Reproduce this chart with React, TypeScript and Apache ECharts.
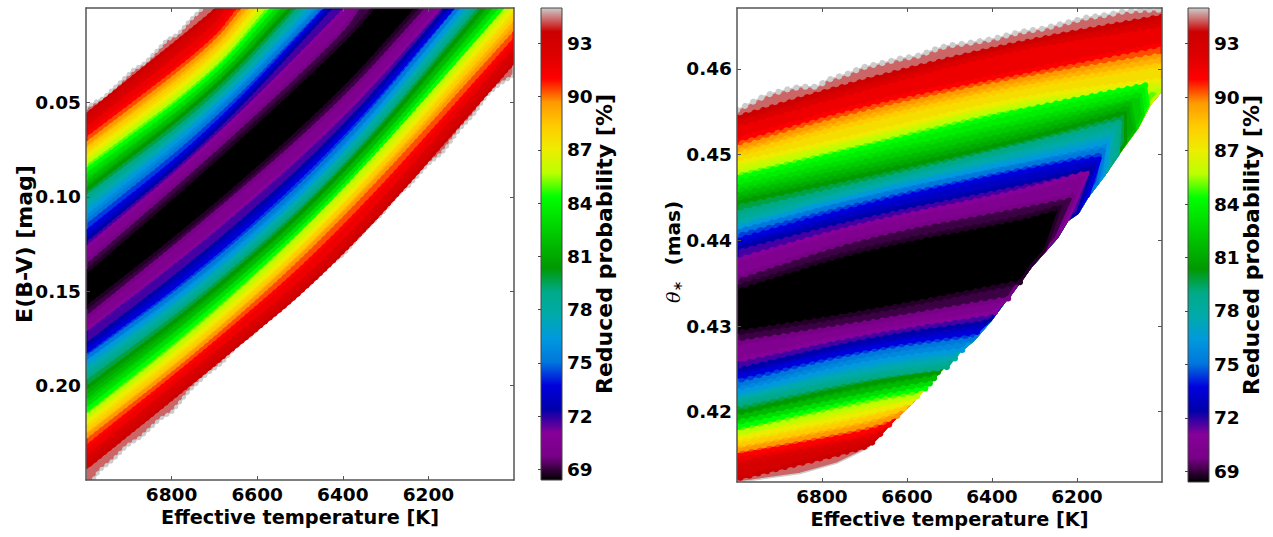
import React, { useEffect, useRef } from "react";
import * as echarts from "echarts";

// Probability levels (fraction of the colour scale), outermost to innermost
const levels = [0.95, 0.9, 0.85, 0.8, 0.75, 0.7, 0.65, 0.6, 0.55, 0.5, 0.45, 0.4, 0.35, 0.3, 0.25, 0.2, 0.15, 0.1, 0.05, 0.015];

// Colour scale stops
const scaleStops = [
  [0, 0, 0], [120, 0, 135], [135, 0, 153], [0, 0, 170], [0, 0, 221], [0, 119, 221], [0, 153, 221],
  [0, 170, 170], [0, 170, 135], [0, 153, 0], [0, 186, 0], [0, 221, 0], [0, 255, 0], [186, 255, 0],
  [237, 237, 0], [255, 204, 0], [255, 153, 0], [255, 0, 0], [221, 0, 0], [204, 0, 0], [204, 204, 204],
];

const tempTicks = [6200, 6400, 6600, 6800];
const ebvTicks = [0.05, 0.1, 0.15, 0.2];
const thetaTicks = [0.42, 0.43, 0.44, 0.45, 0.46];
const probTicks = [69, 72, 75, 78, 81, 84, 87, 90, 93];
const probRange = [68.4, 95];

// Left panel: E(B-V) of each contour at T=7000, 6710, 6407
const leftUpperA = [0.0567, 0.062, 0.0673, 0.072, 0.0752, 0.0789, 0.0821, 0.0858, 0.089, 0.0927, 0.0964, 0.1001, 0.1043, 0.1086, 0.1133, 0.1186, 0.1229, 0.1271, 0.1345, 0.1398];
const leftUpperB = [0.0037, 0.0101, 0.0175, 0.0222, 0.0265, 0.0307, 0.0344, 0.0381, 0.0408, 0.0434, 0.0461, 0.0514, 0.054, 0.0567, 0.0609, 0.0662, 0.0689, 0.0726, 0.0779, 0.0832];
const leftUpperC = [null, null, null, null, null, null, null, null, null, null, null, null, null, null, null, null, null, 0.0037, 0.0143, 0.0201];
const leftUpperEndT = [6694, 6678, 6652, 6631, 6614, 6598, 6584, 6565, 6551, 6537, 6521, 6502, 6486, 6470, 6453, 6439, 6428, 6395, 6364, 6329];
const leftLowerA = [0.2436, 0.2383, 0.2325, 0.2272, 0.224, 0.2198, 0.2166, 0.2134, 0.2103, 0.206, 0.2013, 0.196, 0.1917, 0.188, 0.1854, 0.1822, 0.1785, 0.1705, 0.1642, 0.1589];
const leftLowerB = [0.1907, 0.1854, 0.1801, 0.1758, 0.1727, 0.169, 0.1653, 0.1615, 0.1584, 0.1557, 0.152, 0.1478, 0.1446, 0.1414, 0.1377, 0.134, 0.1282, 0.1202, 0.1112, 0.1075];
const leftLowerC = [0.134, 0.1287, 0.1202, 0.1128, 0.1091, 0.1059, 0.1006, 0.098, 0.0964, 0.0932, 0.09, 0.0858, 0.0821, 0.0794, 0.0752, 0.0704, 0.0667, 0.0599, 0.0514, 0.0461];
const leftLowerEnd = [[6000, 0.0286], [6000, 0.0222], [6000, 0.0169], [6000, 0.0106], [6000, 0.0053], [6000, 0], [6016, 0], [6028, 0], [6042, 0], [6056, 0], [6072, 0], [6091, 0], [6105, 0], [6119, 0], [6131, 0], [6143, 0], [6157, 0], [6173, 0], [6203, 0], [6227, 0]];
const leftTopEdge = [[7000, 0.053], [6979, 0.0498], [6960, 0.0477], [6925, 0.0403], [6890, 0.0328], [6862, 0.0291], [6811, 0.0169], [6785, 0.0138], [6757, 0.0064], [6727, 0]];
const leftBottomEdge = [[7000, 0.2553], [6967, 0.2447], [6939, 0.2399], [6904, 0.2318], [6871, 0.2272], [6827, 0.2177], [6799, 0.214], [6757, 0.2023], [6717, 0.1939], [6682, 0.188], [6640, 0.1769], [6612, 0.1732], [6577, 0.1647], [6547, 0.16], [6516, 0.152], [6477, 0.1462], [6423, 0.1345], [6399, 0.1308], [6369, 0.1229], [6336, 0.1149], [6308, 0.1091], [6273, 0.099], [6243, 0.0937], [6203, 0.0832], [6168, 0.0768], [6126, 0.0641], [6093, 0.0561], [6063, 0.0461], [6033, 0.0403], [6002, 0.036]];

// Right panel: theta of each contour at T=7000, 6699, 6345
const rightUpperA = [0.4543, 0.4535, 0.4517, 0.4508, 0.45, 0.449, 0.448, 0.4473, 0.4462, 0.4453, 0.4444, 0.4432, 0.4421, 0.4414, 0.441, 0.44, 0.4391, 0.4377, 0.4357, 0.4345];
const rightUpperB = [0.4587, 0.4578, 0.456, 0.455, 0.454, 0.4523, 0.4515, 0.4508, 0.4497, 0.4486, 0.4476, 0.4467, 0.4461, 0.4455, 0.4449, 0.4441, 0.443, 0.442, 0.4406, 0.4392];
const rightUpperC = [0.463, 0.4625, 0.4595, 0.4587, 0.4578, 0.4566, 0.4558, 0.455, 0.4537, 0.4525, 0.4515, 0.4508, 0.45, 0.4491, 0.4486, 0.4479, 0.4465, 0.4455, 0.4439, 0.4424];
const rightUpperTip = [[6000, 0.4661], [6000, 0.4651], [6000, 0.4628], [6000, 0.4616], [6000, 0.4605], [6000, 0.4587], [6000, 0.4576], [6039, 0.4581], [6051, 0.457], [6075, 0.456], [6086, 0.4549], [6098, 0.4538], [6115, 0.4526], [6126, 0.4515], [6136, 0.4505], [6145, 0.4496], [6164, 0.4484], [6174, 0.4479], [6204, 0.4453], [6239, 0.4439]];
const rightUpperHit = [[6000, 0.4576], [6000, 0.4576], [6000, 0.4576], [6000, 0.4576], [6000, 0.4576], [6000, 0.4576], [6000, 0.4576], [6032, 0.4558], [6044, 0.4546], [6063, 0.4529], [6086, 0.4514], [6103, 0.45], [6122, 0.4488], [6136, 0.4476], [6152, 0.4467], [6174, 0.4451], [6197, 0.4434], [6221, 0.4424], [6249, 0.4403], [6275, 0.4389]];
const rightLowerHit = [[6682, 0.4164], [6663, 0.4174], [6642, 0.4185], [6623, 0.4195], [6607, 0.4204], [6593, 0.4211], [6576, 0.4218], [6557, 0.4227], [6546, 0.4233], [6536, 0.4239], [6527, 0.4246], [6506, 0.4252], [6487, 0.4262], [6470, 0.4272], [6451, 0.4284], [6435, 0.4293], [6416, 0.4304], [6393, 0.4316], [6362, 0.4332], [6334, 0.4351]];
const rightLowerB = [0.4158, 0.4167, 0.4175, 0.4182, 0.419, 0.4198, 0.4208, 0.4216, 0.4219, 0.4225, 0.4233, 0.424, 0.4248, 0.4258, 0.4268, 0.4275, 0.4284, 0.4293, 0.4303, 0.4315];
const rightLowerA = [0.4122, 0.414, 0.4149, 0.4155, 0.4161, 0.4169, 0.4175, 0.4182, 0.4188, 0.4193, 0.4199, 0.4208, 0.4216, 0.4222, 0.4231, 0.424, 0.4248, 0.426, 0.428, 0.4292];
const rightTopEdge = [[7000, 0.4552], [6953, 0.4564], [6927, 0.457], [6882, 0.4576], [6852, 0.4579], [6812, 0.4579], [6788, 0.4587], [6741, 0.4594], [6703, 0.4602], [6656, 0.4607], [6616, 0.4612], [6576, 0.4615], [6538, 0.4622], [6506, 0.4627], [6458, 0.463], [6397, 0.4635], [6334, 0.4643], [6280, 0.4647], [6223, 0.4654], [6176, 0.466], [6129, 0.4663], [6091, 0.4667], [6044, 0.4669], [6000, 0.4669]];
const rightHull = [[6000, 0.4576], [6028, 0.456], [6058, 0.4532], [6098, 0.4505], [6129, 0.4482], [6176, 0.4451], [6199, 0.4432], [6223, 0.4424], [6247, 0.4404], [6310, 0.4369], [6350, 0.4342], [6374, 0.4327], [6404, 0.4307], [6444, 0.4284], [6475, 0.4272], [6529, 0.4245], [6586, 0.4213], [6633, 0.419], [6670, 0.417], [6694, 0.4157], [6765, 0.414], [6852, 0.4128], [6965, 0.412], [7000, 0.4118]];

const hex = (c: number[]) => `rgb(${c.map((v) => Math.round(v)).join(",")})`;
const scaleColor = (s: number) => {
  const p = Math.max(0, Math.min(1, s)) * (scaleStops.length - 1);
  const i = Math.min(scaleStops.length - 2, Math.floor(p));
  const f = p - i;
  return hex(scaleStops[i].map((v, k) => v + (scaleStops[i + 1][k] - v) * f));
};

type Pt = number[];
// upper/lower: the read contour runs, mid: the stretch that closes them along the panel's limit
type Shape = { s: number; upper: Pt[]; mid: Pt[]; lower: Pt[] };

const leftShapes = (): Shape[] => {
  const out: Shape[] = [{ s: 1, upper: leftTopEdge, mid: [[6000, 0]], lower: [...leftBottomEdge].reverse() }];
  levels.forEach((s, i) => {
    const upper: Pt[] = [[7000, leftUpperA[i]], [6710, leftUpperB[i]]];
    if (leftUpperC[i] !== null) upper.push([6407, leftUpperC[i] as number]);
    upper.push([leftUpperEndT[i], 0]);
    const mid: Pt[] = leftLowerEnd[i][1] > 0 ? [[6000, 0]] : [];
    out.push({ s, upper, mid, lower: [leftLowerEnd[i], [6407, leftLowerC[i]], [6710, leftLowerB[i]], [7000, leftLowerA[i]]] });
  });
  return out;
};

const rightShapes = (): Shape[] => {
  const out: Shape[] = [{ s: 1, upper: rightTopEdge, mid: rightHull, lower: [] }];
  levels.forEach((s, i) => {
    const hu = rightUpperHit[i];
    const hl = rightLowerHit[i];
    const arc = rightHull.filter((h) => h[0] > hu[0] && h[0] < hl[0]);
    out.push({
      s,
      upper: [[7000, rightUpperA[i]], [6699, rightUpperB[i]], [6345, rightUpperC[i]], rightUpperTip[i]],
      mid: [hu, ...arc],
      lower: [hl, [6699, rightLowerB[i]], [7000, rightLowerA[i]]],
    });
  });
  return out;
};

// rounds the corners of a polyline through the read points, its two ends stay in place
const rounded = (pts: number[][]): number[][] => {
  let cur = pts;
  for (let n = 0; n < 3; n++) {
    if (cur.length < 3) return cur;
    const next: number[][] = [cur[0]];
    for (let i = 0; i < cur.length - 1; i++) {
      const a = cur[i];
      const b = cur[i + 1];
      next.push([a[0] * 0.75 + b[0] * 0.25, a[1] * 0.75 + b[1] * 0.25], [a[0] * 0.25 + b[0] * 0.75, a[1] * 0.25 + b[1] * 0.75]);
    }
    next.push(cur[cur.length - 1]);
    cur = next;
  }
  return cur;
};

const contourSeries = (shapes: Shape[], axis: number, dot: number, gap: number) => ({
  type: "custom",
  coordinateSystem: "cartesian2d",
  xAxisIndex: axis * 2,
  yAxisIndex: axis * 2,
  clip: true,
  silent: true,
  data: shapes.map((d) => d.upper[0]),
  renderItem: (params: any, api: any) => {
    const shape = shapes[params.dataIndex];
    const raw = shape.s === 1;
    const up = shape.upper.map((p) => api.coord(p));
    const lo = shape.lower.map((p) => api.coord(p));
    const upper = raw ? up : rounded(up);
    const lower = raw ? lo : rounded(lo);
    const mid = shape.mid.map((p) => api.coord(p));
    const edge = scaleColor(shape.s);
    const dotted = (points: number[][]) => ({
      type: "polyline",
      shape: { points },
      style: { fill: "none", stroke: edge, lineWidth: dot, lineCap: "round", lineDash: [0.1, gap] },
    });
    const children: any[] = [
      {
        type: "polygon",
        shape: { points: [...upper, ...mid, ...lower] },
        style: {
          fill: scaleColor(shape.s === 0.015 ? 0 : shape.s - 0.025),
          stroke: edge,
          lineWidth: raw ? 1.5 : 3,
          lineJoin: "round",
        },
      },
      dotted(upper),
    ];
    if (lower.length > 1) children.push(dotted(lower));
    return { type: "group", children };
  },
});

const barSeries = (axis: number) => ({
  type: "custom",
  coordinateSystem: "cartesian2d",
  xAxisIndex: axis,
  yAxisIndex: axis,
  silent: true,
  data: [[0, probRange[0]]],
  renderItem: (_p: any, api: any) => {
    const a = api.coord([0, probRange[1]]);
    const b = api.coord([1, probRange[0]]);
    return {
      type: "rect",
      shape: { x: a[0], y: a[1], width: b[0] - a[0], height: b[1] - a[1] },
      style: {
        stroke: "#444",
        lineWidth: 1,
        fill: new echarts.graphic.LinearGradient(0, 1, 0, 0, scaleStops.map((c, i) => ({ offset: i / (scaleStops.length - 1), color: hex(c) }))),
      },
    };
  },
});

const FONT = "DejaVu Sans";
const lineStyle = { color: "#555", width: 1.5 };
const labelBase = { fontFamily: FONT, fontWeight: "bold", fontSize: 18.5, color: "#000" };
const xNameStyle = { fontFamily: FONT, fontWeight: "bold", fontSize: 19.3, color: "#000" };
const yNameStyle = { fontFamily: FONT, fontWeight: "bold", fontSize: 22, color: "#000" };

const xAxes = (grid: number) => [
  {
    type: "value", gridIndex: grid, min: 6000, max: 7000, inverse: true, position: "bottom", z: 5,
    name: "Effective temperature [K]", nameLocation: "middle", nameGap: 28, nameMoveOverlap: false, nameTextStyle: xNameStyle,
    axisLine: { onZero: false, lineStyle }, splitLine: { show: false },
    axisTick: { inside: true, length: 4, customValues: tempTicks, lineStyle: { color: "#555" } },
    axisLabel: { ...labelBase, margin: 5, customValues: tempTicks, formatter: (v: number) => String(v) },
  },
  {
    type: "value", gridIndex: grid, min: 6000, max: 7000, inverse: true, position: "top", z: 5,
    axisLine: { onZero: false, lineStyle }, splitLine: { show: false },
    axisTick: { inside: true, length: 4, customValues: tempTicks, lineStyle: { color: "#555" } },
    axisLabel: { show: false },
  },
];

const yAxes = (grid: number, min: number, max: number, inverse: boolean, ticks: number[], name: any, nameGap: number, rich?: any) => [
  {
    type: "value", gridIndex: grid, min, max, inverse, position: "left", z: 5,
    name, nameLocation: "middle", nameGap, nameMoveOverlap: false, nameRotate: 90, nameTextStyle: { ...yNameStyle, rich },
    axisLine: { onZero: false, lineStyle }, splitLine: { show: false },
    axisTick: { inside: true, length: 4, customValues: ticks, lineStyle: { color: "#555" } },
    axisLabel: { ...labelBase, margin: 5, customValues: ticks, formatter: (v: number) => v.toFixed(2) },
  },
  {
    type: "value", gridIndex: grid, min, max, inverse, position: "right", z: 5,
    axisLine: { onZero: false, lineStyle }, splitLine: { show: false },
    axisTick: { inside: true, length: 4, customValues: ticks, lineStyle: { color: "#555" } },
    axisLabel: { show: false },
  },
];

const barX = (grid: number) => ({ type: "value", gridIndex: grid, min: 0, max: 1, show: false });
const barY = (grid: number) => ({
  type: "value", gridIndex: grid, min: probRange[0], max: probRange[1], position: "right", z: 5,
  name: "Reduced probability [%]", nameLocation: "middle", nameGap: 31, nameMoveOverlap: false, nameRotate: 90, nameTextStyle: yNameStyle,
  axisLine: { show: false }, splitLine: { show: false },
  axisTick: { show: true, inside: true, length: 3, customValues: probTicks, lineStyle: { color: "#444" } },
  axisLabel: { ...labelBase, margin: 5, customValues: probTicks, formatter: (v: number) => String(v) },
});

export default function App() {
  const ref = useRef<HTMLDivElement>(null);
  useEffect(() => {
    const chart = echarts.init(ref.current as HTMLDivElement, undefined, { renderer: "svg" });
    const thetaRich = {
      t: { fontFamily: "DejaVu Serif", fontStyle: "italic", fontWeight: "normal", fontSize: 19, color: "#000" },
      s: { fontFamily: FONT, fontWeight: "normal", fontSize: 13, color: "#000", verticalAlign: "bottom" },
      m: { fontFamily: FONT, fontWeight: "bold", fontSize: 20, color: "#000" },
    };
    chart.setOption({
      animation: false,
      backgroundColor: "#fff",
      grid: [
        { left: 86, top: 8, width: 428, height: 472 },
        { left: 737, top: 8, width: 425, height: 474 },
        { left: 541, top: 8, width: 21, height: 472 },
        { left: 1188, top: 8, width: 21, height: 474 },
      ],
      xAxis: [...xAxes(0), ...xAxes(1), barX(2), barX(3)],
      yAxis: [
        ...yAxes(0, 0, 0.25, true, ebvTicks, "E(B-V) [mag]", 51),
        ...yAxes(1, 0.4118, 0.4671, false, thetaTicks, "{t|θ}{s|∗}  {m|(mas)  }", 53, thetaRich),
        barY(2),
        barY(3),
      ],
      series: [
        contourSeries(leftShapes(), 0, 4, 6),
        contourSeries(rightShapes(), 1, 6, 9),
        barSeries(4),
        barSeries(5),
      ],
    });
    return () => chart.dispose();
  }, []);
  return <div ref={ref} style={{ position: "absolute", left: 0, top: 0, width: 1273, height: 537 }} />;
}
